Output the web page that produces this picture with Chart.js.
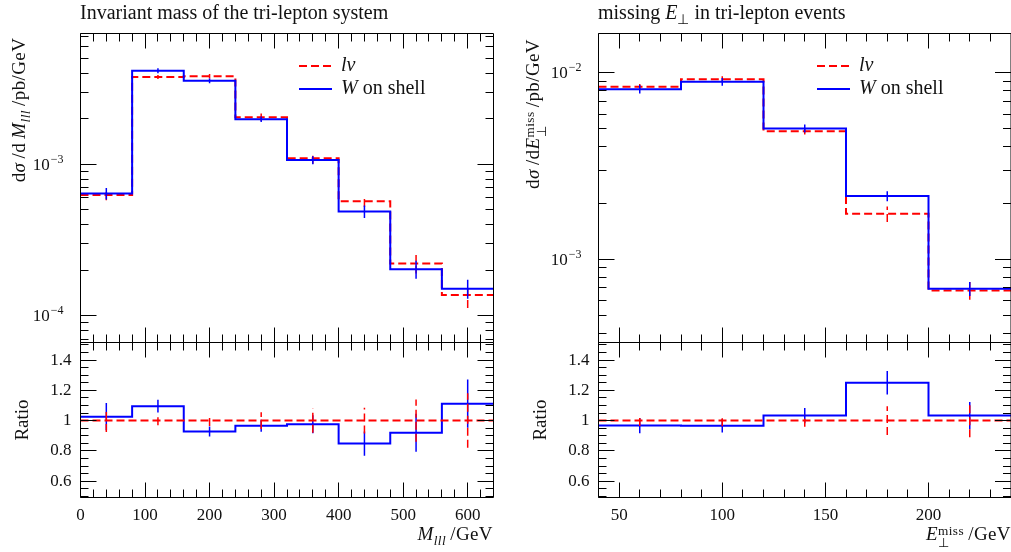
<!DOCTYPE html>
<html>
<head>
<meta charset="utf-8">
<script src="https://cdn.jsdelivr.net/npm/chart.js@4.4.0/dist/chart.umd.min.js"></script>
<style>
body { margin: 0; background: #fff; }
#wrap { position: relative; width: 1011px; height: 552px; overflow: hidden; font-family: 'Liberation Serif', serif; color: #111; }
canvas { position: absolute; left: 0; top: 0; }
.t { position: absolute; white-space: nowrap; font-size: 19px; line-height: 22px; }
.title { font-size: 20px; }
.ax { letter-spacing: 0.4px; }
.rot { transform: translate(-50%, -50%) rotate(-90deg); }
sub { font-size: 0.7em; line-height: 0; vertical-align: -0.35em; }
.ss { display: inline-block; vertical-align: -0.5em; line-height: 0.9; font-size: 0.7em; text-align: left; }
.ss span { display: block; }
</style>
</head>
<body>
<div id="wrap">
  <canvas id="massMain" width="1011" height="552"></canvas>
  <canvas id="massRatio" width="1011" height="552"></canvas>
  <canvas id="metMain" width="1011" height="552"></canvas>
  <canvas id="metRatioC" width="1011" height="552"></canvas>

  <div class="t title" style="left:80px;top:1px">Invariant mass of the tri-lepton system</div>
  <div class="t title" style="left:598px;top:1px">missing <i>E</i><sub>⊥</sub> in tri-lepton events</div>

  <div class="t ax rot" style="left:19px;top:110px">d<i>σ</i>&#8201;/d&#8201;<i>M</i><sub><i>lll</i></sub>&#8201;/pb/GeV</div>
  <div class="t ax rot" style="left:535px;top:114px">d<i>σ</i>&#8201;/d<i>E</i><span class="ss"><span>miss</span><span>⊥</span></span>&#8201;/pb/GeV</div>
  <div class="t rot" style="left:22px;top:420px">Ratio</div>
  <div class="t rot" style="left:540px;top:420px">Ratio</div>

  <div class="t ax" style="right:518px;top:523px"><i>M</i><sub><i>lll</i></sub>&#8201;/GeV</div>
  <div class="t ax" style="right:0px;top:523px"><i>E</i><span class="ss"><span>miss</span><span>⊥</span></span>&#8201;/GeV</div>
</div>

<script>
// --- données : masse invariante du système tri-lepton ---
const massEdges = [0, 80, 160, 240, 320, 400, 480, 560, 640];
const massLnu = [6.27e-4, 3.79e-3, 3.83e-3, 2.055e-3, 1.10e-3, 5.72e-4, 2.21e-4, 1.37e-4];
const massW = [6.43e-4, 4.16e-3, 3.57e-3, 1.99e-3, 1.068e-3, 4.89e-4, 2.03e-4, 1.51e-4];
const massLnuRatio = [1, 1, 1, 1, 1, 1, 1, 1];
const massWRatio = [1.026, 1.095, 0.928, 0.966, 0.976, 0.848, 0.92, 1.112];
const massLnuRelErr = [0.075, 0.03, 0.035, 0.055, 0.08, 0.085, 0.14, 0.18];
const massWRatioErr = [0.09, 0.042, 0.033, 0.04, 0.06, 0.08, 0.126, 0.16];
const massXTicks = [0, 100, 200, 300, 400, 500, 600];
const massXTickLabels = ['0', '100', '200', '300', '400', '500', '600'];

// --- données : énergie transverse manquante ---
const metEdges = [40, 80, 120, 160, 200, 240];
const metLnu = [8.41e-3, 9.25e-3, 4.86e-3, 1.75e-3, 6.79e-4];
const metW = [8.17e-3, 8.95e-3, 5.03e-3, 2.18e-3, 6.93e-4];
const metLnuRatio = [1, 1, 1, 1, 1];
const metWRatio = [0.967, 0.966, 1.033, 1.25, 1.033];
const metLnuRelErr = [0.035, 0.037, 0.04, 0.095, 0.11];
const metWRatioErr = [0.05, 0.045, 0.05, 0.077, 0.09];
const metXTicks = [50, 100, 150, 200];
const metXTickLabels = ['50', '100', '150', '200'];

const ratioYTicks = [0.6, 0.8, 1.0, 1.2, 1.4];
const ratioYTickLabels = ['0.6', '0.8', '1', '1.2', '1.4'];

const RED = 'rgb(255,0,0)';
const BLUE = 'rgb(0,0,255)';
const DASH = [8, 4];
const FONT = '"Liberation Serif", serif';

function stepPoints(edges, vals) {
    const pts = vals.map((v, i) => ({ x: edges[i], y: v }));
    pts.push({ x: edges[edges.length - 1], y: vals[vals.length - 1] });
    return pts;
}

function barPoints(edges, vals, errs) {
    const pts = [];
    vals.forEach((v, i) => {
        const c = (edges[i] + edges[i + 1]) / 2;
        pts.push({ x: c, y: v - errs[i] }, { x: c, y: v + errs[i] }, { x: c, y: null });
    });
    return pts;
}

function range(a, b, step) {
    const out = [];
    for (let v = a; v <= b + 1e-9; v += step) out.push(Math.round(v * 1000) / 1000);
    return out;
}

function logMinors(min, max) {
    const out = [];
    for (let e = Math.floor(Math.log10(min)); e <= Math.ceil(Math.log10(max)); e++) {
        for (let m = 2; m <= 9; m++) {
            const v = m * Math.pow(10, e);
            if (v >= min && v <= max) out.push(v);
        }
    }
    return out;
}

function histSet(data, color, dashed) {
    // 'before' : palier horizontal au niveau du point précédent, puis saut vertical
    return { data, borderColor: color, borderWidth: 2, borderDash: dashed ? DASH : [],
             stepped: 'before', pointRadius: 0, fill: false };
}

function barSet(data, color, dashed) {
    return { data, borderColor: color, borderWidth: 1.5, borderDash: dashed ? DASH : [],
             spanGaps: false, pointRadius: 0, fill: false };
}

// Cadre, graduations intérieures, étiquettes et légende
const decoPlugin = {
    id: 'deco',
    afterDatasetsDraw(chart, args, o) {
        const ctx = chart.ctx, a = chart.chartArea;
        const xs = chart.scales.x, ys = chart.scales.y;
        const px = v => Math.round(xs.getPixelForValue(v) - 0.5) + 0.5;
        const py = v => Math.round(ys.getPixelForValue(v) - 0.5) + 0.5;
        ctx.save();
        ctx.strokeStyle = '#000';
        ctx.lineWidth = 1;
        ctx.setLineDash([]);
        ctx.beginPath();
        const xt = (vals, len) => vals.forEach(v => {
            const p = px(v);
            ctx.moveTo(p, a.top); ctx.lineTo(p, a.top + len);
            ctx.moveTo(p, a.bottom); ctx.lineTo(p, a.bottom - len);
        });
        const yt = (vals, len) => vals.forEach(v => {
            const p = py(v);
            ctx.moveTo(a.left, p); ctx.lineTo(a.left + len, p);
            ctx.moveTo(a.right, p); ctx.lineTo(a.right - len, p);
        });
        xt(o.xMajor, 15); xt(o.xMinor, 8);
        yt(o.yMajor, 16); yt(o.yMinor, 8);
        ctx.rect(a.left, a.top, a.right - a.left, a.bottom - a.top);
        ctx.stroke();

        ctx.fillStyle = '#111';
        ctx.font = '17px ' + FONT;
        if (o.xLabels) {
            ctx.textAlign = 'center'; ctx.textBaseline = 'middle';
            o.xLabels.forEach((l, i) => ctx.fillText(l, xs.getPixelForValue(o.xMajor[i]), a.bottom + 18));
        }
        if (o.yLabels) {
            ctx.textAlign = 'right'; ctx.textBaseline = 'middle';
            o.yLabels.forEach((l, i) => ctx.fillText(l, a.left - 9, ys.getPixelForValue(o.yMajor[i])));
        }
        if (o.logLabels) {
            ctx.textBaseline = 'alphabetic'; ctx.textAlign = 'left';
            o.yMajor.forEach(v => {
                const e = Math.round(Math.log10(v));
                const ex = '\u2212' + Math.abs(e);
                ctx.font = '17px ' + FONT;
                const w1 = ctx.measureText('10').width;
                ctx.font = '12px ' + FONT;
                const w2 = ctx.measureText(ex).width;
                const x0 = a.left - 17 - w1 - w2 - 1;
                const y0 = ys.getPixelForValue(v) + 5.5;
                ctx.font = '17px ' + FONT;
                ctx.fillText('10', x0, y0);
                ctx.font = '12px ' + FONT;
                ctx.fillText(ex, x0 + w1 + 1, y0 - 7);
            });
        }
        if (o.legend) {
            const L = o.legend;
            L.items.forEach((it, k) => {
                const y = L.y + k * 23;
                ctx.beginPath();
                ctx.strokeStyle = it.color; ctx.lineWidth = 2;
                ctx.setLineDash(it.dashed ? DASH : []);
                ctx.moveTo(L.x, y); ctx.lineTo(L.x + 33, y);
                ctx.stroke();
                ctx.setLineDash([]);
                let tx = L.x + 42;
                ctx.fillStyle = '#111'; ctx.textAlign = 'left'; ctx.textBaseline = 'middle';
                it.parts.forEach(p => {
                    ctx.font = (p.italic ? 'italic ' : '') + '20px ' + FONT;
                    ctx.fillText(p.t, tx, y);
                    tx += ctx.measureText(p.t).width;
                });
            });
        }
        ctx.restore();
    }
};

const legendItems = [
    { parts: [{ t: 'lν', italic: true }], color: RED, dashed: true },
    { parts: [{ t: 'W', italic: true }, { t: ' on shell' }], color: BLUE, dashed: false }
];

function makeChart(id, datasets, pad, xRange, yScale, deco) {
    return new Chart(document.getElementById(id), {
        type: 'line',
        data: { datasets },
        options: {
            responsive: false,
            animation: false,
            events: [],
            layout: { padding: pad },
            scales: {
                x: { type: 'linear', min: xRange[0], max: xRange[1], display: false },
                y: Object.assign({ display: false }, yScale)
            },
            plugins: { legend: { display: false }, tooltip: { enabled: false }, deco }
        },
        plugins: [decoPlugin]
    });
}

function initCharts() {
    if (typeof Chart === 'undefined') { console.error('Chart.js non chargé'); return; }

    // Masse invariante, panneau principal
    const mMin = 6.65e-5, mMax = 7.34e-3;
    const massWErr = massW.map((v, i) => v * massWRatioErr[i] / massWRatio[i]);
    const massLnuErr = massLnu.map((v, i) => v * massLnuRelErr[i]);
    makeChart('massMain', [
        histSet(stepPoints(massEdges, massW), BLUE, false),
        barSet(barPoints(massEdges, massW, massWErr), BLUE, false),
        histSet(stepPoints(massEdges, massLnu), RED, true),
        barSet(barPoints(massEdges, massLnu, massLnuErr), RED, true)
    ], { left: 80.5, right: 517.5, top: 33.5, bottom: 209.5 }, [0, 640],
    { type: 'logarithmic', min: mMin, max: mMax },
    { xMajor: massXTicks, xMinor: range(20, 620, 20).filter(v => v % 100), yMajor: [1e-4, 1e-3],
      yMinor: logMinors(mMin, mMax), logLabels: true,
      legend: { x: 299, y: 66, items: legendItems } });

    // Masse invariante, rapport
    makeChart('massRatio', [
        histSet(stepPoints(massEdges, massLnuRatio), RED, true),
        barSet(barPoints(massEdges, massLnuRatio, massLnuRelErr), RED, true),
        histSet(stepPoints(massEdges, massWRatio), BLUE, false),
        barSet(barPoints(massEdges, massWRatio, massWRatioErr), BLUE, false)
    ], { left: 80.5, right: 517.5, top: 342.5, bottom: 54.5 }, [0, 640],
    { type: 'linear', min: 0.492, max: 1.516 },
    { xMajor: massXTicks, xMinor: range(20, 620, 20).filter(v => v % 100), yMajor: ratioYTicks,
      yMinor: range(0.5, 1.5, 0.05).filter(v => !ratioYTicks.some(t => Math.abs(t - v) < 1e-6)),
      xLabels: massXTickLabels, yLabels: ratioYTickLabels });

    // Énergie transverse manquante, panneau principal
    const eMin = 3.565e-4, eMax = 1.626e-2;
    const metWErr = metW.map((v, i) => v * metWRatioErr[i] / metWRatio[i]);
    const metLnuErr = metLnu.map((v, i) => v * metLnuRelErr[i]);
    makeChart('metMain', [
        histSet(stepPoints(metEdges, metW), BLUE, false),
        barSet(barPoints(metEdges, metW, metWErr), BLUE, false),
        histSet(stepPoints(metEdges, metLnu), RED, true),
        barSet(barPoints(metEdges, metLnu, metLnuErr), RED, true)
    ], { left: 598.5, right: -0.5, top: 33.5, bottom: 209.5 }, [40, 240],
    { type: 'logarithmic', min: eMin, max: eMax },
    { xMajor: metXTicks, xMinor: range(40, 240, 10).filter(v => v % 50), yMajor: [1e-3, 1e-2],
      yMinor: logMinors(eMin, eMax), logLabels: true,
      legend: { x: 817, y: 66, items: legendItems } });

    // Énergie transverse manquante, rapport
    makeChart('metRatioC', [
        histSet(stepPoints(metEdges, metLnuRatio), RED, true),
        barSet(barPoints(metEdges, metLnuRatio, metLnuRelErr), RED, true),
        histSet(stepPoints(metEdges, metWRatio), BLUE, false),
        barSet(barPoints(metEdges, metWRatio, metWRatioErr), BLUE, false)
    ], { left: 598.5, right: -0.5, top: 342.5, bottom: 54.5 }, [40, 240],
    { type: 'linear', min: 0.492, max: 1.516 },
    { xMajor: metXTicks, xMinor: range(40, 240, 10).filter(v => v % 50), yMajor: ratioYTicks,
      yMinor: range(0.5, 1.5, 0.05).filter(v => !ratioYTicks.some(t => Math.abs(t - v) < 1e-6)),
      xLabels: metXTickLabels, yLabels: ratioYTickLabels });
}

document.addEventListener('DOMContentLoaded', initCharts);
</script>
</body>
</html>
